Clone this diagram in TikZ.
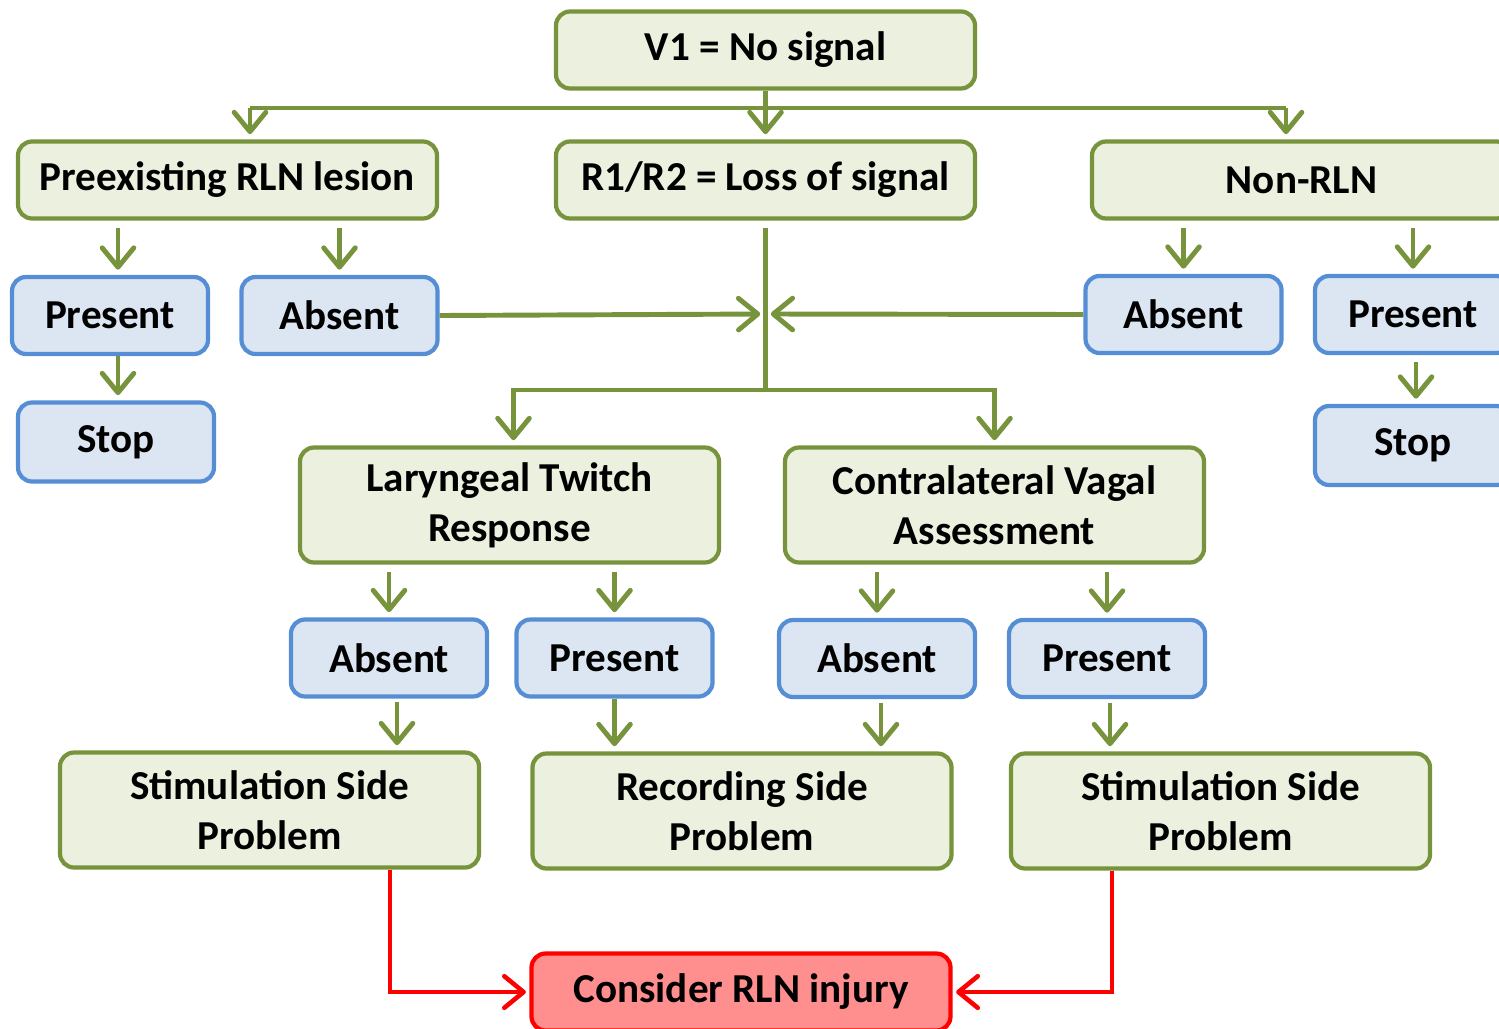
\documentclass[tikz,border=0pt]{standalone}
\usepackage{fontspec}
\setmainfont{Carlito}
\usetikzlibrary{arrows.meta, positioning}
\definecolor{verdeoliva}{RGB}{119,147,60}
\definecolor{verdeclaro}{RGB}{235,241,222}
\definecolor{azulborde}{RGB}{85,142,213}
\definecolor{azulclaro}{RGB}{220,230,242}
\definecolor{rojoclaro}{RGB}{255,143,143}
\tikzstyle{paso} = [draw=verdeoliva, fill=verdeclaro, line width=1.2pt, rectangle, rounded corners=4pt, minimum width=4.19cm, minimum height=0.77cm, align=center, font=\bfseries\fontsize{11.7}{14.2}\selectfont]
\tikzstyle{doble} = [paso, minimum height=1.15cm]
\tikzstyle{opcion} = [paso, draw=azulborde, fill=azulclaro, minimum width=1.96cm]
\tikzstyle{alarma} = [paso, draw=red, fill=rojoclaro]
\tikzstyle{linea} = [draw=verdeoliva, line width=1.4pt]
\tikzstyle{flecha} = [linea, -{Straight Barb[length=5.5pt,width=9pt,round]}, shorten >=1.5pt]
\tikzstyle{flecharoja} = [draw=red, line width=1.3pt, -{Straight Barb[length=5.5pt,width=9pt,round]}, shorten >=1pt]

\begin{document}
\begin{tikzpicture}
	\clip (0,0) rectangle (14.99,-10.28);
	\node [paso] (v1) at (7.655,-0.50) {V1 = No signal};
	\node [paso] (preex) at (2.275,-1.80) {Preexisting RLN lesion};
	\node [paso] (loss) at (7.655,-1.80) {R1/R2 = Loss of signal};
	\node [paso] (nonrln) at (13.015,-1.80) {Non-RLN};
	\node [opcion] (prePresent) at (1.10,-3.155) {Present};
	\node [opcion] (preAbsent) at (3.395,-3.155) {Absent};
	\node [opcion, minimum height=0.79cm] (preStop) at (1.16,-4.42) {Stop};
	\node [opcion] (nonAbsent) at (11.835,-3.145) {Absent};
	\node [opcion] (nonPresent) at (14.13,-3.145) {Present};
	\node [opcion, minimum height=0.79cm] (nonStop) at (14.13,-4.455) {Stop};
	\node [doble] (twitch) at (5.095,-5.05) {Laryngeal Twitch\\Response};
	\node [doble] (vagal) at (9.945,-5.05) {Contralateral Vagal\\Assessment};
	\node [opcion] (twAbsent) at (3.89,-6.58) {Absent};
	\node [opcion] (twPresent) at (6.145,-6.58) {Present};
	\node [opcion] (vaAbsent) at (8.77,-6.585) {Absent};
	\node [opcion] (vaPresent) at (11.07,-6.585) {Present};
	\node [doble] (stimL) at (2.695,-8.10) {Stimulation Side\\Problem};
	\node [doble] (recording) at (7.42,-8.11) {Recording Side\\Problem};
	\node [doble] (stimR) at (12.205,-8.11) {Stimulation Side\\Problem};
	\node [alarma] (injury) at (7.41,-9.92) {Consider RLN injury};
	% desde V1
	\coordinate (bar) at (7.655,-1.08);
	\coordinate (barL) at (2.50,-1.08);
	\coordinate (barR) at (12.86,-1.08);
	\draw[linea] (v1.south) -- (bar);
	\draw[linea] (barL) -- (barR);
	\draw[flecha] (barL) -- (barL |- preex.north);
	\draw[flecha] (bar) -- (loss.north);
	\draw[flecha] (barR) -- (barR |- nonrln.north);
	% lesion previa
	\draw[flecha, shorten <=2pt] ([xshift=0.08cm]preex.south -| prePresent.north) -- ([xshift=0.08cm]prePresent.north);
	\draw[flecha, shorten <=2pt] (preex.south -| preAbsent.north) -- (preAbsent.north);
	\draw[flecha] ([xshift=0.08cm]prePresent.south) -- ([xshift=0.02cm]preStop.north);
	% no RLN
	\draw[flecha, shorten <=2pt] (nonrln.south -| nonAbsent.north) -- (nonAbsent.north);
	\draw[flecha, shorten <=2pt] (nonrln.south -| nonPresent.north) -- (nonPresent.north);
	\draw[flecha, shorten <=2pt] ([xshift=0.03cm]nonPresent.south) -- ([xshift=0.03cm]nonStop.north);
	% perdida de senal
	\coordinate (cruce) at (7.655,-3.14);
	\coordinate (split) at (7.655,-3.90);
	\draw[linea, shorten <=2pt] (loss.south) -- (split);
	\draw[flecha] (split) -| ([xshift=0.04cm]twitch.north);
	\draw[flecha] (split) -| (vagal.north);
	\draw[flecha] (preAbsent.east) -- (cruce);
	\draw[flecha] (nonAbsent.west) -- (cruce);
	% respuestas
	\draw[flecha, shorten <=2pt] (twitch.south -| twAbsent.north) -- (twAbsent.north);
	\draw[flecha, shorten <=2pt] (twitch.south -| twPresent.north) -- (twPresent.north);
	\draw[flecha, shorten <=2pt] (vagal.south -| vaAbsent.north) -- (vaAbsent.north);
	\draw[flecha, shorten <=2pt] (vagal.south -| vaPresent.north) -- (vaPresent.north);
	\draw[flecha, shorten <=1pt] ([xshift=0.08cm]twAbsent.south) -- ([xshift=0.08cm]twAbsent.south |- stimL.north);
	\draw[flecha] (twPresent.south) -- (twPresent.south |- recording.north);
	\draw[flecha, shorten <=1pt] ([xshift=0.04cm]vaAbsent.south) -- ([xshift=0.04cm]vaAbsent.south |- recording.north);
	\draw[flecha, shorten <=1pt] ([xshift=0.03cm]vaPresent.south) -- ([xshift=0.03cm]vaPresent.south |- stimR.north);
	% lesion RLN
	\draw[flecharoja] ([xshift=1.205cm]stimL.south) |- (injury.west);
	\draw[flecharoja] ([xshift=-1.085cm]stimR.south) |- (injury.east);
\end{tikzpicture}
\end{document}
